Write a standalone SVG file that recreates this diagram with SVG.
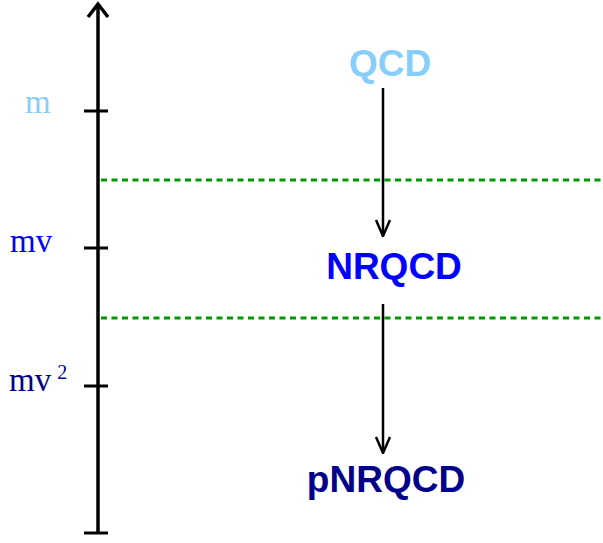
<svg xmlns="http://www.w3.org/2000/svg" width="603" height="543" viewBox="0 0 603 543">
  <style>
    .axis { stroke: #000; stroke-width: 3.5; fill: none; }
    .tick { stroke: #000; stroke-width: 3; }
    .sep { stroke: #009a00; stroke-width: 3; stroke-dasharray: 6 4.5; }
    .flow { stroke: #000; stroke-width: 2.5; fill: none; }
    .scale { font-family: "Liberation Serif", serif; font-size: 33px; }
    .theory { font-family: "Liberation Sans", Arial, sans-serif; font-weight: bold; font-size: 37px; text-anchor: middle; }
  </style>
  <defs>
    <marker id="head" viewBox="0 0 18 18" refX="17" refY="9" markerWidth="18" markerHeight="18" markerUnits="userSpaceOnUse" orient="auto">
      <path d="M1,2 L17,9 L1,16" fill="none" stroke="#000" stroke-width="2.5"/>
    </marker>
  </defs>

  <!-- energy axis -->
  <g id="axis">
    <line class="axis" x1="98" y1="4" x2="98" y2="533"/>
    <path class="axis" d="M88,17 L98,4 L108,17"/>
    <line class="tick" x1="84" y1="111" x2="108" y2="111"/>
    <line class="tick" x1="84" y1="248" x2="108" y2="248"/>
    <line class="tick" x1="84" y1="386" x2="108" y2="386"/>
    <line class="tick" x1="84" y1="533" x2="108" y2="533"/>
  </g>

  <!-- scale labels -->
  <g id="scale-m"><text class="scale" x="25" y="113" fill="#87CEFA">m</text></g>
  <g id="scale-mv"><text class="scale" x="10" y="252" fill="#0000FF">mv</text></g>
  <g id="scale-mv2"><text class="scale" x="9" y="391" fill="#00008B">mv<tspan font-size="20" dx="6" dy="-12">2</tspan></text></g>

  <!-- matching thresholds -->
  <g id="thresholds">
    <line class="sep" x1="101" y1="180" x2="603" y2="180"/>
    <line class="sep" x1="101" y1="318" x2="603" y2="318"/>
  </g>

  <!-- effective theories -->
  <g id="qcd"><text class="theory" x="390" y="76" fill="#87CEFA">QCD</text></g>
  <g id="nrqcd"><text class="theory" x="394" y="279" fill="#0000FF">NRQCD</text></g>
  <g id="pnrqcd"><text class="theory" x="386" y="492" fill="#00008B">pNRQCD</text></g>

  <!-- reduction arrows -->
  <g id="connectors">
    <line class="flow" x1="383" y1="88" x2="383" y2="236" marker-end="url(#head)"/>
    <line class="flow" x1="383" y1="304" x2="383" y2="453" marker-end="url(#head)"/>
  </g>
</svg>
